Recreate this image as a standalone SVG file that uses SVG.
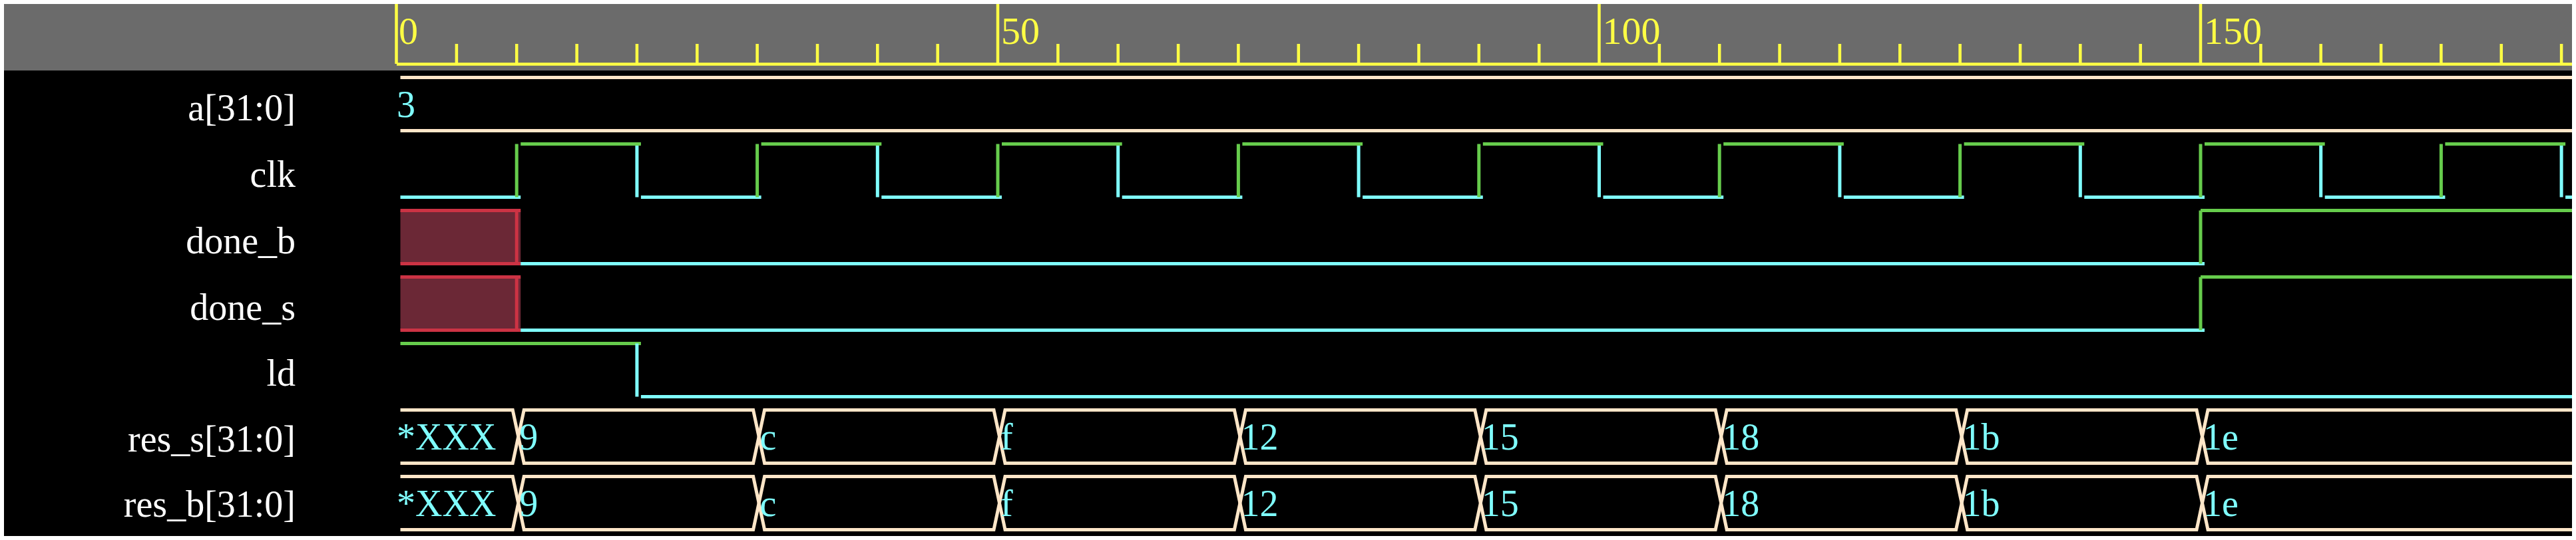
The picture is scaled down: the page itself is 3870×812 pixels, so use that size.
<svg xmlns="http://www.w3.org/2000/svg" width="3870" height="812" viewBox="0 0 3870 812">
<style>
.lbl{font-family:"Liberation Serif","Times New Roman",serif;font-size:56px;fill:#ffffff;text-anchor:end}
.val{font-family:"Liberation Serif","Times New Roman",serif;font-size:56px;fill:#7fffff}
.rul{font-family:"Liberation Serif","Times New Roman",serif;font-size:58px;fill:#ffff44}
.tick{stroke:#ffff44;stroke-width:4.5;fill:none}
.hi{stroke:#66cc4c;stroke-width:5;fill:none}
.lo{stroke:#7fffff;stroke-width:5;fill:none}
.bus{stroke:#ffe6c8;stroke-width:5;fill:none}
.xr{stroke:#cc3344;stroke-width:5;fill:none}
.xf{fill:#6b2836}
</style>
<rect x="0" y="0" width="3870" height="812" fill="#ffffff"/>
<rect x="6" y="6" width="3858" height="100" fill="#6b6b6b"/>
<rect x="6" y="106" width="3858" height="700" fill="#000000"/>
<g id="ruler">
<path class="tick" d="M595.5 6V96M1499 6V96M2402.5 6V96M3306 6V96"/>
<path class="tick" d="M596 96.5H3864"/>
<path class="tick" d="M685.9 66V96M776.2 66V96M866.6 66V96M956.9 66V96M1047.3 66V96M1137.6 66V96M1228 66V96M1318.3 66V96M1408.7 66V96M1589.4 66V96M1679.7 66V96M1770.1 66V96M1860.4 66V96M1950.8 66V96M2041.1 66V96M2131.5 66V96M2221.8 66V96M2312.2 66V96M2492.9 66V96M2583.2 66V96M2673.6 66V96M2763.9 66V96M2854.3 66V96M2944.6 66V96M3035 66V96M3125.3 66V96M3215.7 66V96M3396.4 66V96M3486.7 66V96M3577.1 66V96M3667.4 66V96M3757.8 66V96M3848.1 66V96"/>
<text class="rul" x="599" y="66">0</text>
<text class="rul" x="1504" y="66">50</text>
<text class="rul" x="2407.5" y="66">100</text>
<text class="rul" x="3311" y="66">150</text>
</g>
<g id="labels">
<text class="lbl" x="444" y="181">a[31:0]</text>
<text class="lbl" x="444" y="281">clk</text>
<text class="lbl" x="444" y="381">done_b</text>
<text class="lbl" x="444" y="481">done_s</text>
<text class="lbl" x="444" y="580">ld</text>
<text class="lbl" x="444" y="679">res_s[31:0]</text>
<text class="lbl" x="444" y="777">res_b[31:0]</text>
</g>
<g id="connectors">
<g id="sig-a">
<path class="bus" d="M601.5 116.5H3864M601.5 196.5H3864"/>
<text class="val" x="596" y="176">3</text>
</g>
<g id="sig-clk">
<path class="lo" d="M601.5 296.5H782.2M962.9 296.5H1143.6M1324.3 296.5H1505M1685.7 296.5H1866.4M2047.1 296.5H2227.8M2408.5 296.5H2589.2M2769.9 296.5H2950.6M3131.3 296.5H3312M3492.7 296.5H3673.4M3854.1 296.5H3864"/>
<path class="lo" d="M956.9 216.5V296.5M1318.3 216.5V296.5M1679.7 216.5V296.5M2041.1 216.5V296.5M2402.5 216.5V296.5M2763.9 216.5V296.5M3125.3 216.5V296.5M3486.7 216.5V296.5M3848.1 216.5V296.5"/>
<path class="hi" d="M782.2 216.5H962.9M1143.6 216.5H1324.3M1505 216.5H1685.7M1866.4 216.5H2047.1M2227.8 216.5H2408.5M2589.2 216.5H2769.9M2950.6 216.5H3131.3M3312 216.5H3492.7M3673.4 216.5H3854.1"/>
<path class="hi" d="M776.2 216.5V296.5M1137.6 216.5V296.5M1499 216.5V296.5M1860.4 216.5V296.5M2221.8 216.5V296.5M2583.2 216.5V296.5M2944.6 216.5V296.5M3306 216.5V296.5M3667.4 216.5V296.5"/>
</g>
<g id="sig-done_b">
<rect class="xf" x="601.5" y="316.5" width="180.7" height="80"/>
<path class="xr" d="M601.5 316.5H782.2M601.5 396.5H782.2M776.2 316.5V396.5"/>
<path class="lo" d="M782.2 396.5H3312"/>
<path class="hi" d="M3306 396.5V316.5M3306 316.5H3864"/>
</g>
<g id="sig-done_s">
<rect class="xf" x="601.5" y="416.5" width="180.7" height="80"/>
<path class="xr" d="M601.5 416.5H782.2M601.5 496.5H782.2M776.2 416.5V496.5"/>
<path class="lo" d="M782.2 496.5H3312"/>
<path class="hi" d="M3306 496.5V416.5M3306 416.5H3864"/>
</g>
<g id="sig-ld">
<path class="hi" d="M601.5 516.5H962.9"/>
<path class="lo" d="M956.9 516.5V596.5M962.9 596.5H3864"/>
</g>
<g id="sig-res_s">
<path class="bus" d="M601.5 616.5H770.2L787.2 696.5H1131.6L1148.6 616.5H1493L1510 696.5H1854.4L1871.4 616.5H2215.8L2232.8 696.5H2577.2L2594.2 616.5H2938.6L2955.6 696.5H3300L3317 616.5H3864"/>
<path class="bus" d="M601.5 696.5H770.2L787.2 616.5H1131.6L1148.6 696.5H1493L1510 616.5H1854.4L1871.4 696.5H2215.8L2232.8 616.5H2577.2L2594.2 696.5H2938.6L2955.6 616.5H3300L3317 696.5H3864"/>
<text class="val" x="596" y="676">*XXX</text>
<text class="val" x="780.2" y="676">9</text>
<text class="val" x="1141.6" y="676">c</text>
<text class="val" x="1503" y="676">f</text>
<text class="val" x="1864.4" y="676">12</text>
<text class="val" x="2225.8" y="676">15</text>
<text class="val" x="2587.2" y="676">18</text>
<text class="val" x="2948.6" y="676">1b</text>
<text class="val" x="3310" y="676">1e</text>
</g>
<g id="sig-res_b">
<path class="bus" d="M601.5 716.5H770.2L787.2 796.5H1131.6L1148.6 716.5H1493L1510 796.5H1854.4L1871.4 716.5H2215.8L2232.8 796.5H2577.2L2594.2 716.5H2938.6L2955.6 796.5H3300L3317 716.5H3864"/>
<path class="bus" d="M601.5 796.5H770.2L787.2 716.5H1131.6L1148.6 796.5H1493L1510 716.5H1854.4L1871.4 796.5H2215.8L2232.8 716.5H2577.2L2594.2 796.5H2938.6L2955.6 716.5H3300L3317 796.5H3864"/>
<text class="val" x="596" y="776">*XXX</text>
<text class="val" x="780.2" y="776">9</text>
<text class="val" x="1141.6" y="776">c</text>
<text class="val" x="1503" y="776">f</text>
<text class="val" x="1864.4" y="776">12</text>
<text class="val" x="2225.8" y="776">15</text>
<text class="val" x="2587.2" y="776">18</text>
<text class="val" x="2948.6" y="776">1b</text>
<text class="val" x="3310" y="776">1e</text>
</g>
</g>
</svg>
